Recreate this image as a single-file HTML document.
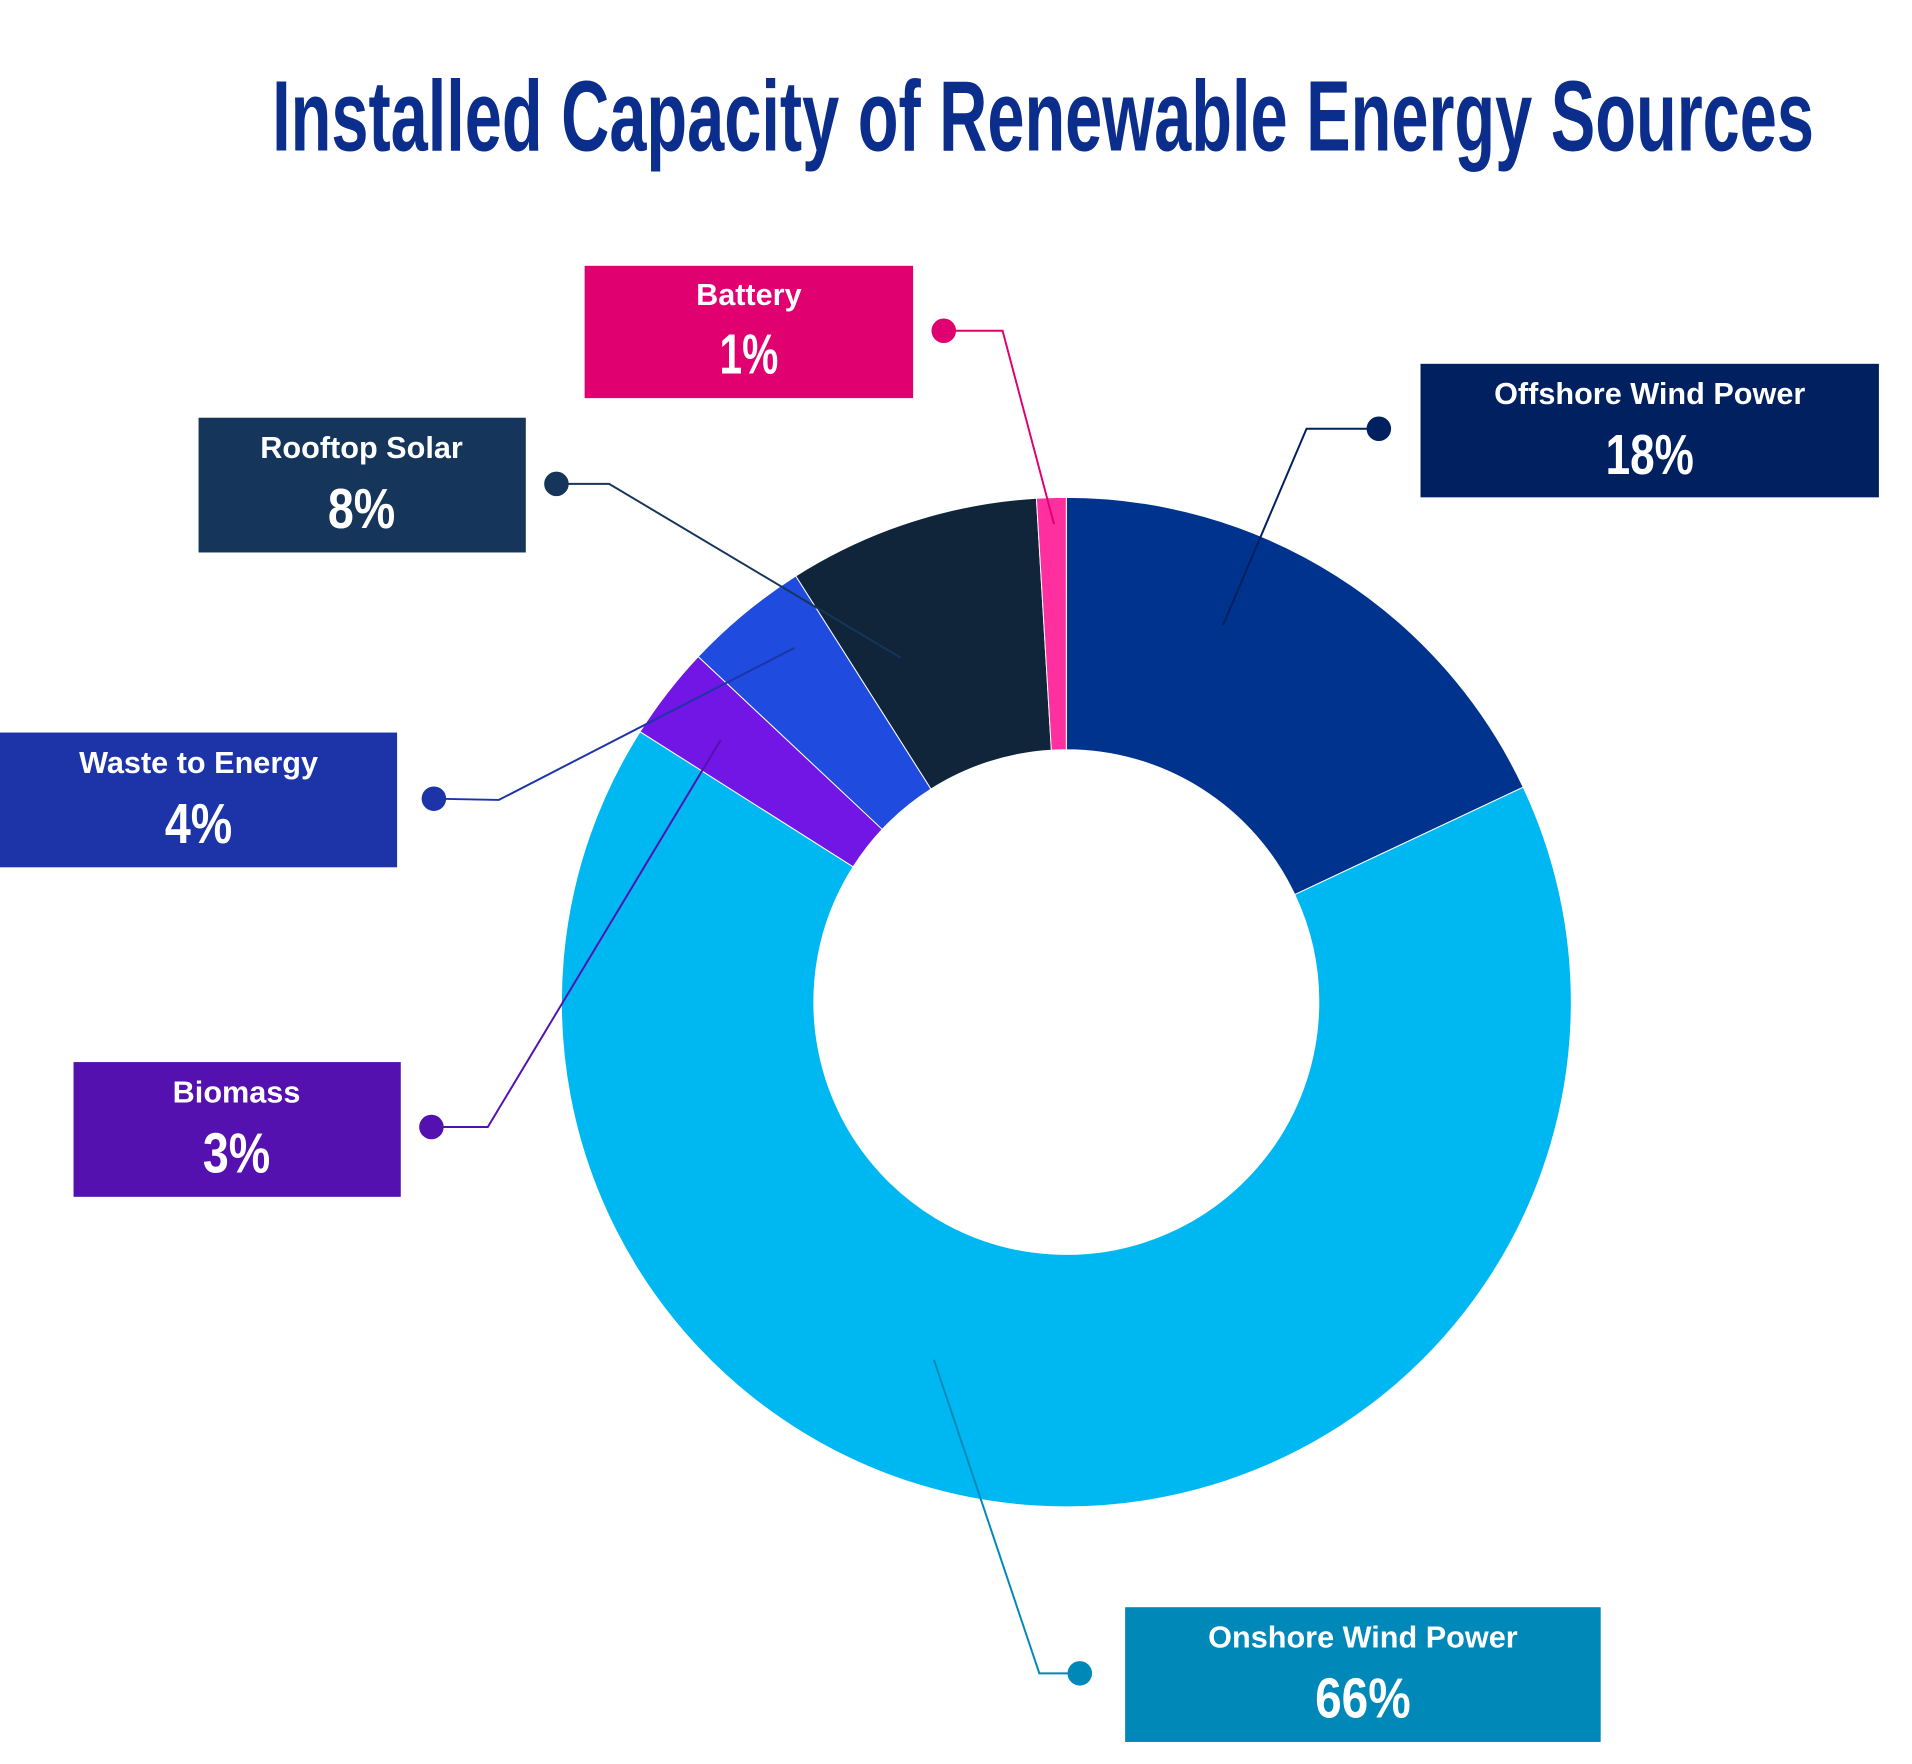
<!DOCTYPE html>
<html><head><meta charset="utf-8"><style>html,body{margin:0;padding:0;background:#fff}svg{display:block}</style></head>
<body>
<svg width="1912" height="1764" viewBox="0 0 1560 1440" preserveAspectRatio="none" xmlns="http://www.w3.org/2000/svg" font-family="Liberation Sans, sans-serif">
<rect width="1560" height="1440" fill="#fff"/>
<text x="222" y="123" font-size="82" font-weight="bold" fill="#0b2d8c" textLength="1258" lengthAdjust="spacingAndGlyphs">Installed Capacity of Renewable Energy Sources</text>
<g stroke="#fff" stroke-width="0.8">
<path d="M870,406 A412,412 0 0 1 1242.8,642.6 L1056.4,730.3 A206,206 0 0 0 870,612 Z" fill="#00338e"/>
<path d="M1242.8,642.6 A412,412 0 1 1 522.2,597.3 L696.1,707.6 A206,206 0 1 0 1056.4,730.3 Z" fill="#00b8f1"/>
<path d="M522.2,597.3 A412,412 0 0 1 569.7,536.0 L719.8,677.0 A206,206 0 0 0 696.1,707.6 Z" fill="#7216e6"/>
<path d="M569.7,536.0 A412,412 0 0 1 649.3,470.2 L759.6,644.1 A206,206 0 0 0 719.8,677.0 Z" fill="#1f4bdf"/>
<path d="M649.3,470.2 A412,412 0 0 1 845.6,406.7 L857.8,612.4 A206,206 0 0 0 759.6,644.1 Z" fill="#10243a"/>
<path d="M845.6,406.7 A412,412 0 0 1 870,406 L870,612 A206,206 0 0 0 857.8,612.4 Z" fill="#ff2fa0"/>
</g>
<g fill="none" stroke-width="1.6">
<polyline points="770,270 818,270 860,428" stroke="#e0006f"/>
<polyline points="1125,350 1066,350 998,510" stroke="#00205f"/>
<polyline points="454,395 497,395 735,537" stroke="#15365a"/>
<polyline points="354,652 407,653 648,529" stroke="#1c34a8"/>
<polyline points="352,920 398,920 588,604" stroke="#5510b0"/>
<polyline points="881,1366 848,1366 762,1110" stroke="#0088b8"/>
</g>
<circle cx="770" cy="270" r="10" fill="#e0006f"/>
<circle cx="1125" cy="350" r="10" fill="#00205f"/>
<circle cx="454" cy="395" r="10" fill="#15365a"/>
<circle cx="354" cy="652" r="10" fill="#1c34a8"/>
<circle cx="352" cy="920" r="10" fill="#5510b0"/>
<circle cx="881" cy="1366" r="10" fill="#0088b8"/>
<g fill="#fff" text-anchor="middle" font-weight="bold">
<rect x="477" y="217" width="268" height="108" fill="#e0006f"/>
<text x="611" y="249" font-size="25">Battery</text>
<text x="611" y="305" font-size="46" textLength="48" lengthAdjust="spacingAndGlyphs">1%</text>
<rect x="1159" y="297" width="374" height="109" fill="#00205f"/>
<text x="1346" y="330" font-size="25">Offshore Wind Power</text>
<text x="1346" y="387" font-size="46" textLength="72" lengthAdjust="spacingAndGlyphs">18%</text>
<rect x="162" y="341" width="267" height="110" fill="#15365a"/>
<text x="295" y="374" font-size="25">Rooftop Solar</text>
<text x="295" y="431" font-size="46" textLength="55" lengthAdjust="spacingAndGlyphs">8%</text>
<rect x="0" y="598" width="324" height="110" fill="#1c34a8"/>
<text x="162" y="631" font-size="25">Waste to Energy</text>
<text x="162" y="688" font-size="46" textLength="55" lengthAdjust="spacingAndGlyphs">4%</text>
<rect x="60" y="867" width="267" height="110" fill="#5510b0"/>
<text x="193" y="900" font-size="25">Biomass</text>
<text x="193" y="957" font-size="46" textLength="55" lengthAdjust="spacingAndGlyphs">3%</text>
<rect x="918" y="1312" width="388" height="110" fill="#0088b8"/>
<text x="1112" y="1345" font-size="25">Onshore Wind Power</text>
<text x="1112" y="1402" font-size="46" textLength="78" lengthAdjust="spacingAndGlyphs">66%</text>
</g>
</svg>
</body></html>
